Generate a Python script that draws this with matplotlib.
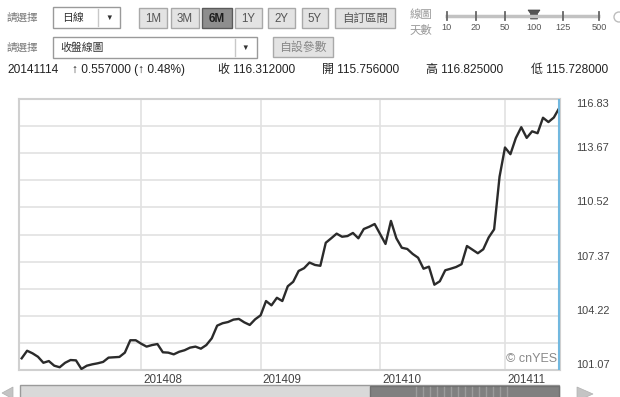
import numpy as np
import matplotlib.pyplot as plt
from matplotlib.patches import Rectangle, Polygon, Circle

# 收盤價 (日線, 最近100筆)
close = [101.75, 102.19, 102.04, 101.84, 101.49, 101.59, 101.32, 101.23, 101.49, 101.65,
         101.63, 101.13, 101.32, 101.40, 101.46, 101.54, 101.79, 101.81, 101.83, 102.08,
         102.80, 102.80, 102.60, 102.43, 102.52, 102.58, 102.10, 102.08, 101.98, 102.13,
         102.22, 102.37, 102.43, 102.31, 102.52, 102.91, 103.65, 103.79, 103.86, 104.00,
         104.04, 103.84, 103.69, 104.02, 104.25, 105.08, 104.83, 105.27, 105.08, 105.94,
         106.20, 106.83, 106.99, 107.32, 107.18, 107.13, 108.47, 108.73, 109.00, 108.82,
         108.86, 109.04, 108.73, 109.27, 109.40, 109.56, 108.98, 108.40, 109.74, 108.73,
         108.18, 108.11, 107.82, 107.60, 106.96, 107.08, 106.03, 106.23, 106.87, 106.96,
         107.06, 107.22, 108.28, 108.07, 107.86, 108.09, 108.78, 109.25, 112.31, 114.01,
         113.62, 114.56, 115.19, 114.57, 114.95, 114.84, 115.74, 115.49, 115.755, 116.312]
month_pos = [22, 44, 66, 89]
month_labels = ['201408', '201409', '201410', '201411']
y_min, y_max = 101.07, 116.83
y_labels = ['101.07', '104.22', '107.37', '110.52', '113.67', '116.83']

# 報價資訊
quote_date = '20141114'
chg, chg_pct = '0.557000', '0.48%'
q_close, q_open, q_high, q_low = '116.312000', '115.756000', '116.825000', '115.728000'
range_btns = ['1M', '3M', '6M', '1Y', '2Y', '5Y', '自訂區間']
active_btn = '6M'
days_opts = ['10', '20', '50', '100', '125', '500']
days_sel = '100'

W, H = 620, 397
fig = plt.figure(figsize=(W / 100, H / 100), dpi=100)

lat = ['Liberation Sans', 'Noto Sans CJK TC', 'DejaVu Sans']
cjk = ['Noto Sans CJK TC', 'DejaVu Sans']

# 上方控制列 (像素座標)
ui = fig.add_axes([0, 0, 1, 1])
ui.set_xlim(0, W)
ui.set_ylim(H, 0)
ui.axis('off')

def box(x0, y0, x1, y1, fc, ec, lw=1.0):
    ui.add_patch(Rectangle((x0, y0), x1 - x0, y1 - y0, fc=fc, ec=ec, lw=lw))

# 第一列
ui.text(7, 18, '請選擇', family=cjk, fontsize=7.6, color='#777777', va='center')
box(53, 7, 120, 28, 'white', '#9a9a9a')
ui.plot([98, 98], [9, 26], color='#c8c8c8', lw=1)
ui.text(62, 18, '日線', family=cjk, fontsize=7.8, color='#333333', va='center')
ui.text(109, 18, '▼', family=lat, fontsize=5.5, color='#333333', ha='center', va='center')

btn_x = [(139, 167), (171, 199), (202, 232), (235, 262), (268, 295), (302, 328), (335, 395)]
for lab, (x0, x1) in zip(range_btns, btn_x):
    on = lab == active_btn
    box(x0, 8, x1, 28, '#8e8e8e' if on else '#e3e3e3', '#5a5a5a' if on else '#a9a9a9')
    ui.text((x0 + x1) / 2, 18.5, lab, family=lat, fontsize=8.3, ha='center', va='center',
            color='#1e1e1e' if on else '#555555', fontweight='bold' if on else 'normal')

ui.text(410, 15, '線圖', family=cjk, fontsize=8.2, color='#9a9a9a', va='center')
ui.text(410, 30, '天數', family=cjk, fontsize=8.2, color='#9a9a9a', va='center')
tick_x = [446.7, 476, 505, 534, 563.3, 599]
ui.plot([445, 600], [16, 16], color='#c2c2c2', lw=2.5, solid_capstyle='butt')
for lab, tx in zip(days_opts, tick_x):
    if lab == days_sel:
        ui.add_patch(Polygon([(528, 10), (540, 10), (537.5, 13.5), (537.5, 19), (530.5, 19), (530.5, 13.5)],
                             closed=True, fc='#555555', ec='#444444', lw=0.5))
    else:
        ui.plot([tx, tx], [12, 20], color='#666666', lw=1.3)
    ui.text(tx, 27, lab, family=lat, fontsize=6.6, color='#555555', ha='center', va='center')
ui.add_patch(Circle((619, 17), 5, fc='none', ec='#bdbdbd', lw=1))

# 第二列
ui.text(7, 48, '請選擇', family=cjk, fontsize=7.6, color='#777777', va='center')
box(53, 37, 257, 58, 'white', '#9a9a9a')
ui.plot([235, 235], [39, 56], color='#c8c8c8', lw=1)
ui.text(60, 47.5, '收盤線圖', family=cjk, fontsize=7.8, color='#333333', va='center')
ui.text(245, 48, '▼', family=lat, fontsize=5.5, color='#333333', ha='center', va='center')
box(273, 37, 333, 57, '#e3e3e3', '#a9a9a9')
ui.text(303, 47, '自設參數', family=cjk, fontsize=8.6, color='#888888', ha='center', va='center')

# 第三列
row3 = [(7, quote_date), (72, '↑ ' + chg + ' (↑ ' + chg_pct + ')'), (218, '收 ' + q_close),
        (322, '開 ' + q_open), (426, '高 ' + q_high), (531, '低 ' + q_low)]
for x, s in row3:
    ui.text(x, 70, s, family=lat, fontsize=8.6, color='#222222', va='center')

# 下方捲軸
box(20, 385, 559, 400, '#d9d9d9', '#9a9a9a')
box(370, 386, 559, 400, '#808080', '#707070')
for gx in np.arange(416, 514, 7):
    ui.plot([gx, gx], [387, 397], color='#9c9c9c', lw=1)
ui.add_patch(Polygon([(2, 393), (13, 387), (13, 399)], closed=True, fc='#c4c4c4', ec='#b0b0b0', lw=0.5))
ui.add_patch(Polygon([(577, 387), (593, 394), (577, 401)], closed=True, fc='#c4c4c4', ec='#b0b0b0', lw=0.5))

# 主圖
ax = fig.add_axes([19.5 / W, (H - 370) / H, 540 / W, 271 / H])
x = np.arange(len(close))
ax.plot(x, close, color='#2b2b2b', lw=1.7, zorder=3)
ax.set_xlim(-0.4, len(close) - 1 + 0.04)
ax.set_ylim(y_min, y_max)

grid_vals = np.linspace(y_min, y_max, 11)
ax.set_yticks(grid_vals)
tick_labs = [''] * 11
for i, lab in enumerate(y_labels):
    tick_labs[min(i * 2, 10)] = lab
ax.set_yticklabels(tick_labs, family=lat)
ax.yaxis.tick_right()
ax.tick_params(axis='y', length=0, pad=12, labelsize=7.9, labelcolor='#444444')
for i, t in enumerate(ax.get_yticklabels()):
    t.set_va('top' if i == 10 else 'bottom')

ax.set_xticks(month_pos)
ax.set_xticklabels([])
ax.tick_params(axis='x', length=0)
ax.grid(True, color='#e2e2e2', lw=1.2)
for p, lab in zip(month_pos, month_labels):
    ax.annotate(lab, xy=(p, 0), xycoords=('data', 'axes fraction'), xytext=(2, -4),
                textcoords='offset pixels', ha='left', va='top', family=lat,
                fontsize=8.4, color='#444444')

ax.axvline(len(close) - 1, color='#72b8df', lw=1.5, zorder=4)
for s in ax.spines.values():
    s.set_color('#d0d0d0')
    s.set_linewidth(1.5)
ax.text(0.996, 0.04, '© cnYES', transform=ax.transAxes, ha='right', va='center',
        family=lat, fontsize=9, color='#8a8a8a')

fig.savefig('out.png', dpi=100)
